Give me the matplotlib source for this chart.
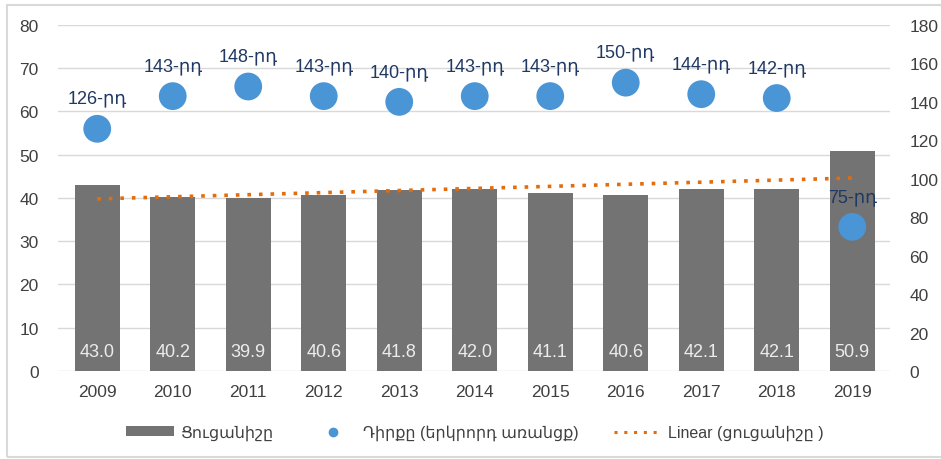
import numpy as np
import matplotlib.pyplot as plt
from matplotlib.lines import Line2D
from matplotlib.patches import Patch, Rectangle

plt.rcParams['font.family'] = ['Liberation Sans', 'DejaVu Sans']

years = ['2009', '2010', '2011', '2012', '2013', '2014', '2015', '2016', '2017', '2018', '2019']
values = [43.0, 40.2, 39.9, 40.6, 41.8, 42.0, 41.1, 40.6, 42.1, 42.1, 50.9]
ranks = [126, 143, 148, 143, 140, 143, 143, 150, 144, 142, 75]

bar_color = '#737373'
dot_color = '#4a95d6'
label_color = '#1f3864'
trend_color = '#e46c0a'
text_color = '#404040'

fig = plt.figure(figsize=(9.41, 4.6), dpi=100)
ax = fig.add_axes([0.0616, 0.1913, 0.8842, 0.7522])
ax2 = ax.twinx()

x = np.arange(len(years))

# bars (primary axis)
ax.bar(x, values, width=0.6, color=bar_color, zorder=2)
for xi, v in zip(x, values):
    ax.annotate(f'{v:.1f}', (xi, 0), xytext=(0, 14), textcoords='offset points',
                ha='center', va='center', color='#ececec', fontsize=13, zorder=3)

# linear trend of the bar series
k, b = np.polyfit(x, values, 1)
ax.plot(x, k * x + b, color=trend_color, linestyle=(0, (1, 2.2)), linewidth=2.6,
        zorder=3)

ax.set_ylim(0, 80)
ax.set_yticks(range(0, 81, 10))
ax.set_xlim(-0.52, 10.5)
ax.set_xticks(x)
ax.set_xticklabels(years)
ax.grid(axis='y', color='#d9d9d9', linewidth=1, zorder=0)
ax.set_axisbelow(True)

# rank dots (secondary axis)
ax2.scatter(x, ranks, s=400, color=dot_color, zorder=4, edgecolors='none')
for xi, r in zip(x, ranks):
    ax2.annotate(f'{r}-րդ', (xi, r), xytext=(0, 22), textcoords='offset points',
                 ha='center', va='center', color=label_color, fontsize=13)
ax2.set_ylim(0, 180)
ax2.set_yticks(range(0, 181, 20))

for a in (ax, ax2):
    for s in a.spines.values():
        s.set_visible(False)
    a.tick_params(length=0, labelsize=12.5, labelcolor=text_color)
ax.tick_params(axis='y', pad=14)
ax.tick_params(axis='x', pad=9)
ax2.tick_params(axis='y', pad=14)

handles = [
    Patch(facecolor=bar_color, edgecolor='none'),
    Line2D([], [], marker='o', color=dot_color, linestyle='none', markersize=6),
    Line2D([], [], color=trend_color, linestyle=(0, (1, 2.2)), linewidth=2.2),
]
labels = ['Ցուցանիշը', 'Դիրքը (երկրորդ առանցք)', 'Linear (ցուցանիշը )']
fig.legend(handles, labels, loc='center', bbox_to_anchor=(0.505, 0.058), ncol=3,
           frameon=False, fontsize=11.5, handlelength=3.0, handleheight=0.55,
           handletextpad=0.4, columnspacing=2.2, labelcolor=text_color)

# light frame around chart
fig.patches.append(Rectangle((0.0075, 0.005), 1.2, 0.982, transform=fig.transFigure,
                             fill=False, edgecolor='#d9d9d9', linewidth=1.5))

fig.savefig('out.png', dpi=100)
